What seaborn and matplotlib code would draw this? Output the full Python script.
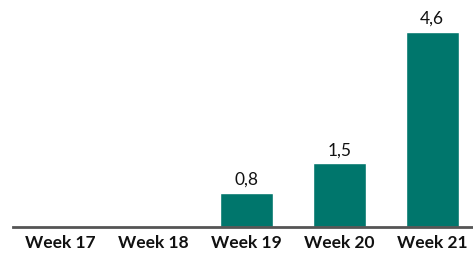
import matplotlib
import matplotlib.pyplot as plt
import pandas as pd
import seaborn as sns

matplotlib.use("Agg")

weeks  = ["Week 17", "Week 18", "Week 19", "Week 20", "Week 21"]
values = [0.0, 0.0, 0.8, 1.5, 4.6]
labels = ["", "", "0,8", "1,5", "4,6"]

df = pd.DataFrame({"week": weeks, "value": values})

sns.set_theme(style="white")
plt.rcParams["font.family"] = ["Lato", "DejaVu Sans"]

fig = plt.figure(figsize=(4.73, 2.57), dpi=100)
ax = fig.add_axes([13 / 473, 1 - 227 / 257, 1 - 13 / 473, 227 / 257])

sns.barplot(data=df, x="week", y="value", color="#00766C", saturation=1,
            width=0.57, ax=ax)

for i, (v, lab) in enumerate(zip(values, labels)):
    if lab:
        ax.text(i, v + 0.12, lab, ha="center", va="bottom", fontsize=12.5, color="#111111")

ax.set_xlim(-0.51, 4.44)
ax.set_ylim(0, 227 / 195 * 4.6)
ax.set_xlabel("")
ax.set_ylabel("")
ax.set_yticks([])
ax.tick_params(axis="x", length=0, pad=6, labelsize=12.5)
for t in ax.get_xticklabels():
    t.set_fontweight("bold")
    t.set_color("#111111")

sns.despine(ax=ax, left=True, top=True, right=True)
ax.spines["bottom"].set_color("#555555")
ax.spines["bottom"].set_linewidth(2)

fig.savefig("out.png", dpi=100)
plt.close(fig)
